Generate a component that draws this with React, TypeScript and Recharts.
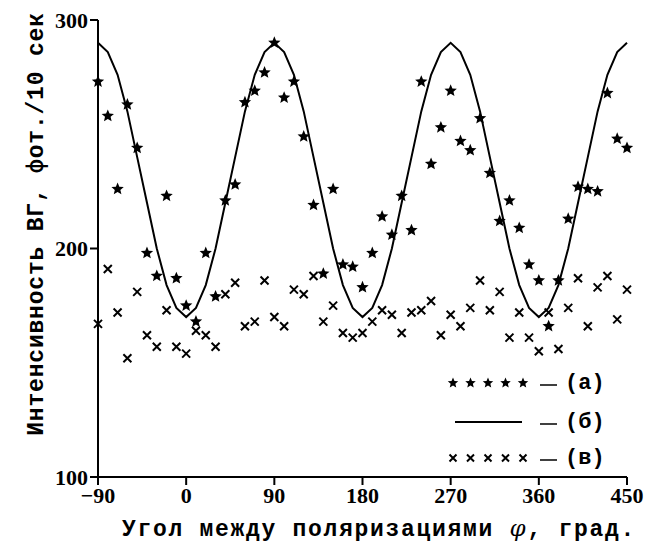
import { ComposedChart, Line, Scatter, XAxis, YAxis, Legend } from "recharts";

// angle between polarizations, degrees
const angles = [
    -90, -80, -70, -60, -50, -40, -30, -20, -10, 0,
    10, 20, 30, 40, 50, 60, 70, 80, 90, 100,
    110, 120, 130, 140, 150, 160, 170, 180, 190, 200,
    210, 220, 230, 240, 250, 260, 270, 280, 290, 300,
    310, 320, 330, 340, 350, 360, 370, 380, 390, 400,
    410, 420, 430, 440, 450,
];

// (а) measured, stars
const starValues = [
    273, 258, 226, 263, 244, 198, 188, 223, 187, 175,
    168, 198, 179, 221, 228, 264, 269, 277, 290, 266,
    273, 249, 219, 189, 226, 193, 192, 183, 198, 214,
    206, 223, 208, 273, 237, 253, 269, 247, 243, 257,
    233, 212, 221, 209, 193, 186, 166, 186, 213, 227,
    226, 225, 268, 248, 244,
];

// (б) calculated curve
const curveValues = [
    290, 286, 276, 260, 240, 220, 200, 184, 174, 170,
    174, 184, 200, 220, 240, 260, 276, 286, 290, 286,
    276, 260, 240, 220, 200, 184, 174, 170, 174, 184,
    200, 220, 240, 260, 276, 286, 290, 286, 276, 260,
    240, 220, 200, 184, 174, 170, 174, 184, 200, 220,
    240, 260, 276, 286, 290,
];

// (в) background, crosses
const crossValues = [
    167, 191, 172, 152, 181, 162, 157, 173, 157, 154,
    164, 162, 157, 180, 185, 166, 168, 186, 170, 166,
    182, 180, 188, 168, 175, 163, 161, 163, 168, 173,
    171, 163, 172, 173, 177, 162, 171, 166, 174, 186,
    173, 181, 161, 172, 161, 155, 172, 156, 174, 187,
    166, 183, 188, 169, 182,
];

const xTicks = [-90, 0, 90, 180, 270, 360, 450];
const yTicks = [100, 200, 300];
const legendLabels = ["(а)", "(б)", "(в)"];

const starData = angles.map((x, i) => ({ x, y: starValues[i] }));
const curveData = angles.map((x, i) => ({ x, y: curveValues[i] }));
const crossData = angles.map((x, i) => ({ x, y: crossValues[i] }));

const monoFont = "'Liberation Mono', 'DejaVu Sans Mono', monospace";
const tickFont = { fill: "#000", fontSize: 22, fontWeight: "bold", fontFamily: "'Liberation Serif', serif" };

function starPath(cx: number, cy: number, r: number) {
    const pts: string[] = [];
    for (let i = 0; i < 10; i++) {
        const rad = i % 2 === 0 ? r : r * 0.45;
        const a = -Math.PI / 2 + (i * Math.PI) / 5;
        pts.push(`${cx + rad * Math.cos(a)},${cy + rad * Math.sin(a)}`);
    }
    return `M${pts.join("L")}Z`;
}

const Star = (p: any) => <path d={starPath(p.cx, p.cy, 6.5)} fill="#000" />;

const Cross = (p: any) => {
    const s = 4;
    return (
        <path
            d={`M${p.cx - s},${p.cy - s}L${p.cx + s},${p.cy + s}M${p.cx - s},${p.cy + s}L${p.cx + s},${p.cy - s}`}
            stroke="#000"
            strokeWidth={2}
        />
    );
};

const fmtTick = (v: number) => (v < 0 ? `−${-v}` : `${v}`);

function LegendBox() {
    const xs = [10, 27.5, 45, 62.5, 80];
    const rowText = (y: number, label: string) => (
        <>
            <line x1={97} x2={114} y1={y + 2} y2={y + 2} stroke="#000" strokeWidth={1.5} />
            <text x={122} y={y} dominantBaseline="central" fontFamily={monoFont} fontWeight="bold" fontSize={22} fill="#000">
                {label}
            </text>
        </>
    );
    return (
        <svg width={180} height={110}>
            {xs.map((x) => (
                <path key={`s${x}`} d={starPath(x, 23, 5.5)} fill="#000" />
            ))}
            {rowText(23, legendLabels[0])}
            <line x1={12} x2={79} y1={62} y2={62} stroke="#000" strokeWidth={2} />
            {rowText(62, legendLabels[1])}
            {xs.map((x) => (
                <path
                    key={`c${x}`}
                    d={`M${x - 3.5},${98 - 3.5}L${x + 3.5},${98 + 3.5}M${x - 3.5},${98 + 3.5}L${x + 3.5},${98 - 3.5}`}
                    stroke="#000"
                    strokeWidth={2}
                />
            ))}
            {rowText(98, legendLabels[2])}
        </svg>
    );
}

export default function App() {
    return (
        <div style={{ position: "absolute", left: 0, top: 0, width: 646, height: 544, background: "#fff" }}>
            <ComposedChart width={646} height={544} margin={{ top: 20, right: 19, bottom: 0, left: 0 }}>
                <XAxis
                    dataKey="x"
                    type="number"
                    domain={[-90, 450]}
                    ticks={xTicks}
                    tickFormatter={fmtTick}
                    height={67}
                    tickSize={8}
                    tickMargin={2}
                    tick={tickFont}
                    axisLine={{ stroke: "#000", strokeWidth: 2 }}
                    tickLine={{ stroke: "#000", strokeWidth: 2 }}
                    label={() => (
                        <text x={379} y={536} textAnchor="middle" fontFamily={monoFont} fontWeight="bold" fontSize={23} letterSpacing={1.7} fill="#000">
                            Угол между поляризациями{" "}
                            <tspan fontFamily="'DejaVu Serif', serif" fontStyle="italic" fontWeight="normal">φ</tspan>, град.
                        </text>
                    )}
                />
                <YAxis
                    dataKey="y"
                    type="number"
                    domain={[100, 300]}
                    ticks={yTicks}
                    width={98}
                    tickSize={8}
                    tickMargin={2}
                    tick={tickFont}
                    axisLine={{ stroke: "#000", strokeWidth: 2 }}
                    tickLine={{ stroke: "#000", strokeWidth: 2 }}
                    label={() => (
                        <text x={37} y={224} transform="rotate(-90, 37, 224)" textAnchor="middle" dominantBaseline="central" fontFamily={monoFont} fontWeight="bold" fontSize={23} letterSpacing={0.8} fill="#000">
                            Интенсивность ВГ, фот./10 сек
                        </text>
                    )}
                />
                <Legend
                    layout="horizontal"
                    verticalAlign="middle"
                    align="center"
                    content={() => <LegendBox />}
                    wrapperStyle={{ left: 443, top: 360, width: 180, height: 110 }}
                />
                <Line data={curveData} dataKey="y" type="linear" stroke="#000" strokeWidth={2} dot={false} isAnimationActive={false} legendType="none" />
                <Scatter data={starData} dataKey="y" shape={Star} isAnimationActive={false} legendType="none" />
                <Scatter data={crossData} dataKey="y" shape={Cross} isAnimationActive={false} legendType="none" />
            </ComposedChart>
        </div>
    );
}
